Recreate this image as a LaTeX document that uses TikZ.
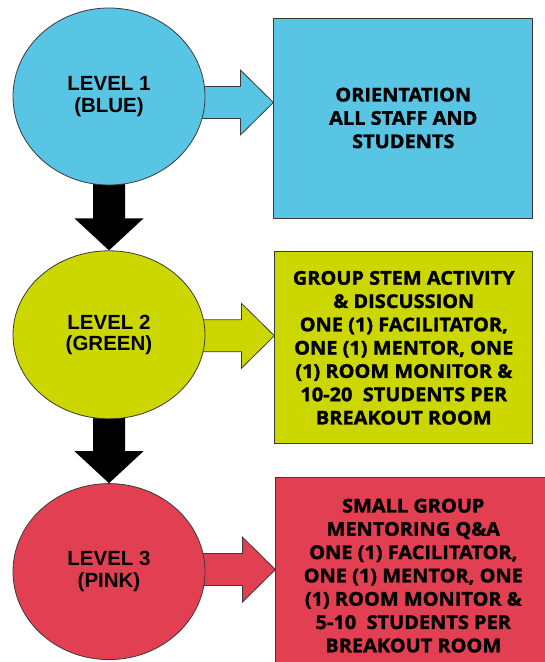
\documentclass[tikz,border=0pt]{standalone}
\usepackage{fontspec}
\setmainfont{Open Sans}[BoldFeatures={FakeBold=1.5, FakeStretch=1.05}]
\newfontfamily\levelfont{Liberation Sans}
\usetikzlibrary{shapes.geometric, positioning, calc, backgrounds}

\definecolor{lvlblue}{HTML}{59C5E5}
\definecolor{lvlgreen}{HTML}{CCD700}
\definecolor{lvlpink}{HTML}{E23F52}
\definecolor{edgegray}{HTML}{3A3A3A}

% outlined block arrow from a level circle to its box (#4 = vertical offset)
\newcommand{\sidearrow}[4]{%
  \draw[blockarr, fill=#3] let \p1=(#1.center), \p2=(#2.west) in
    (\x1,\y1+16pt+#4) -- (\x2-33pt,\y1+16pt+#4) -- (\x2-33pt,\y1+32.5pt+#4) -- (\x2,\y1+#4)
    -- (\x2-33pt,\y1-32.5pt+#4) -- (\x2-33pt,\y1-16pt+#4) -- (\x1,\y1-16pt+#4) -- cycle;}
% black block arrow from one level to the next
\newcommand{\levelarrow}[2]{%
  \fill[black] let \p1=(#1.south), \p2=(#2.north) in
    (\x1-16pt,\y1+10pt) -- (\x1-16pt,\y2+32pt) -- (\x1-34.5pt,\y2+32pt) -- (\x2,\y2)
    -- (\x1+34.5pt,\y2+32pt) -- (\x1+16pt,\y2+32pt) -- (\x1+16pt,\y1+10pt) -- cycle;}

\begin{document}
\begin{tikzpicture}[
    x=1pt, y=1pt,
    level/.style={ellipse, draw=edgegray, line width=0.8pt, minimum width=192pt, align=center, inner sep=0pt,
      font=\levelfont\bfseries\fontsize{20.5}{21.5}\selectfont},
    infobox/.style={rectangle, draw=edgegray, line width=0.8pt, align=center, inner sep=0pt,
      font=\bfseries\fontsize{19}{23.3}\selectfont},
    blockarr/.style={draw=edgegray, line width=0.8pt}
]
\path[use as bounding box, clip] (0,0) rectangle (545,662);

\node[level, fill=lvlblue, minimum height=177pt] (lvl1) at (109,565.5) {LEVEL 1\\(BLUE)};
\node[level, fill=lvlgreen, minimum height=168pt, below=65pt of lvl1] (lvl2) {LEVEL 2\\(GREEN)};
\node[level, fill=lvlpink, minimum height=176pt, below=64pt of lvl2] (lvl3) {LEVEL 3\\(PINK)};

\node[infobox, fill=lvlblue, minimum width=259pt, minimum height=200pt, right=68pt of lvl1, yshift=-21.5pt] (orient)
  {ORIENTATION\\ALL STAFF AND\\STUDENTS};
\node[infobox, fill=lvlgreen, minimum width=258pt, minimum height=192pt, right=69pt of lvl2, yshift=-13pt] (stem)
  {GROUP STEM ACTIVITY\\\& DISCUSSION\\ONE (1) FACILITATOR,\\ONE (1) MENTOR, ONE\\(1) ROOM MONITOR \&\\10-20~ STUDENTS PER\\BREAKOUT ROOM};
\node[infobox, fill=lvlpink, minimum width=275pt, minimum height=196pt, right=70pt of lvl3, yshift=-4pt] (mentor)
  {SMALL GROUP\\MENTORING Q\&A\\ONE (1) FACILITATOR,\\ONE (1) MENTOR, ONE\\(1) ROOM MONITOR \&\\5-10~ STUDENTS PER\\BREAKOUT ROOM};

\begin{scope}[on background layer]
\sidearrow{lvl1}{orient}{lvlblue}{-6pt}
\sidearrow{lvl2}{stem}{lvlgreen}{-1pt}
\sidearrow{lvl3}{mentor}{lvlpink}{2pt}
\levelarrow{lvl1}{lvl2}
\levelarrow{lvl2}{lvl3}
\end{scope}
\end{tikzpicture}
\end{document}
